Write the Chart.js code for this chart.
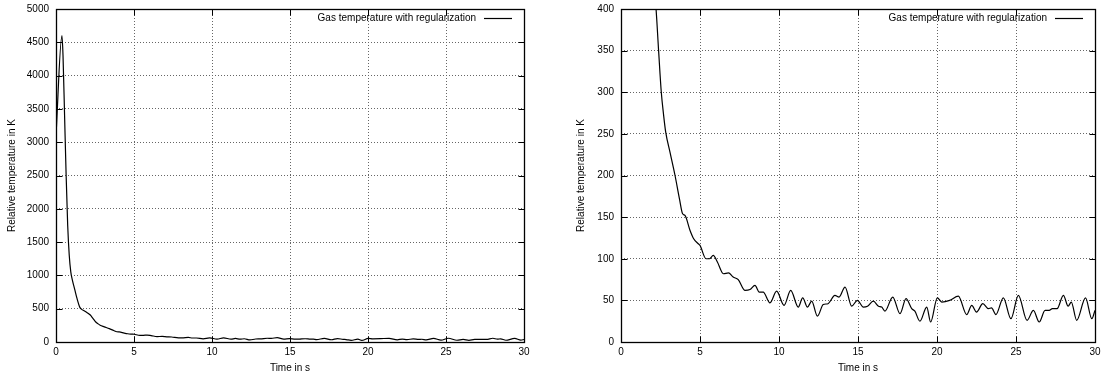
<!DOCTYPE html>
<html><head><meta charset="utf-8">
<script src="https://cdn.jsdelivr.net/npm/chart.js@4/dist/chart.umd.min.js"></script>
<style>
html,body{margin:0;padding:0;background:#fff;}
#wrap{position:relative;width:1101px;height:376px;overflow:hidden;}
canvas{position:absolute;top:0;}
</style></head><body>
<div id="wrap">
<canvas id="c1" style="left:0;width:550px;height:376px"></canvas>
<canvas id="c2" style="left:550px;width:551px;height:376px"></canvas>
</div>
<script>
const timeSeconds = [
  0, 0.38, 0.45, 0.55, 0.65, 0.75, 0.85, 0.95, 1.05, 1.2, 1.35, 1.53, 1.65, 1.8, 2.0,
  2.2, 2.38, 2.55, 2.7, 2.83, 3.1, 3.42, 3.7, 3.9, 4.05, 4.37, 4.6, 4.89, 5.0, 5.38, 5.6,
  5.84, 6.1, 6.48, 6.8, 7.1, 7.42, 7.85, 8.16, 8.48, 8.75, 9.0, 9.43, 9.85, 10.32, 10.74,
  11.22, 11.5, 11.8, 12.07, 12.43, 12.8, 13.1, 13.54, 13.8, 14.18, 14.6, 14.96, 15.34, 15.6, 15.97,
  16.3, 16.5, 16.7, 17.2, 17.66, 18.04, 18.4, 18.6, 18.92, 19.35, 19.6, 20.02, 20.3, 20.8, 21.35,
  21.88, 22.2, 22.5, 22.9, 23.25, 23.45, 23.73, 24.2, 24.68, 25.15, 25.7, 26.1, 26.47, 26.84, 27.1,
  27.3, 27.6, 28.0, 28.3, 28.5, 28.84, 29.4, 29.8, 30
];
const gasTemperature = [
  3100, 4600, 4300, 3400, 2500, 1750, 1300, 1050, 930, 790, 650, 520, 490, 470, 440,
  405, 350, 300, 272, 252, 228, 200, 172, 154, 152, 134, 124, 118, 116, 100, 100,
  104, 96, 82, 83, 78, 75, 62, 63, 68, 60, 60, 47, 61, 44, 62,
  42, 53, 42, 49, 31, 45, 46, 56, 54, 66, 43, 50, 42, 43, 49,
  43, 42, 37, 54, 34, 52, 40, 37, 25, 42, 24, 53, 48, 50, 55,
  33, 44, 36, 46, 40, 41, 33, 53, 28, 56, 26, 38, 24, 38, 38,
  40, 40, 56, 43, 48, 26, 53, 28, 38
];
const xTickValues = [0, 5, 10, 15, 20, 25, 30];
const yTickValuesLeft = [0, 500, 1000, 1500, 2000, 2500, 3000, 3500, 4000, 4500, 5000];
const yTickValuesRight = [0, 50, 100, 150, 200, 250, 300, 350, 400];
const seriesLabel = "Gas temperature with regularization";
const xTitle = "Time in s";
const yTitle = "Relative temperature in K";

Chart.defaults.font.family = '"Liberation Sans", Arial, Helvetica, sans-serif';
Chart.defaults.font.size = 10;
Chart.defaults.color = '#000';

const points = timeSeconds.map((t, i) => ({x: t, y: gasTemperature[i]}));

const framePlugin = {
  id: 'gnuFrame',
  afterDraw(chart) {
    const ctx = chart.ctx;
    const a = chart.chartArea;
    const xs = chart.scales.x, ys = chart.scales.y;
    const L = Math.round(a.left) + 0.5, R = Math.round(a.right) + 0.5;
    const T = Math.round(a.top) + 0.5, B = Math.round(a.bottom) + 0.5;
    ctx.save();
    ctx.strokeStyle = '#000';
    ctx.lineWidth = 1;
    ctx.setLineDash([]);
    ctx.beginPath();
    const tl = 6;
    xs.ticks.forEach(tk => {
      const p = Math.round(xs.getPixelForValue(tk.value)) + 0.5;
      ctx.moveTo(p, B); ctx.lineTo(p, B - tl);
      ctx.moveTo(p, T); ctx.lineTo(p, T + tl);
    });
    ys.ticks.forEach(tk => {
      const p = Math.round(ys.getPixelForValue(tk.value)) + 0.5;
      ctx.moveTo(L, p); ctx.lineTo(L + tl, p);
      ctx.moveTo(R, p); ctx.lineTo(R - tl, p);
    });
    ctx.stroke();
    ctx.lineWidth = 1.3;
    ctx.strokeRect(L, T, R - L, B - T);
    const ky = a.top + 9;
    ctx.font = '10px "Liberation Sans", Arial, sans-serif';
    ctx.fillStyle = '#000';
    ctx.textAlign = 'right';
    ctx.textBaseline = 'middle';
    ctx.fillText(chart.data.datasets[0].label, a.right - 48, ky);
    ctx.lineWidth = 1.2;
    ctx.beginPath();
    ctx.moveTo(a.right - 40, Math.round(ky) + 0.5);
    ctx.lineTo(a.right - 12, Math.round(ky) + 0.5);
    ctx.stroke();
    ctx.restore();
  }
};

function makeChart(id, yMax, yTicks, yAxisWidth, yTitlePad, rightPad) {
  const canvas = document.getElementById(id);
  return new Chart(canvas, {
    type: 'line',
    data: {
      datasets: [{
        label: seriesLabel,
        data: points,
        borderColor: '#000',
        borderWidth: 1.2,
        pointRadius: 0,
        fill: false,
        cubicInterpolationMode: 'monotone'
      }]
    },
    options: {
      responsive: false,
      animation: false,
      devicePixelRatio: 1,
      layout: {padding: {top: 9, right: rightPad, left: 0, bottom: 0}},
      plugins: {legend: {display: false}, tooltip: {enabled: false}},
      scales: {
        x: {
          type: 'linear', min: 0, max: 30,
          afterBuildTicks: s => { s.ticks = xTickValues.map(v => ({value: v})); },
          afterFit: s => { s.height = 34; s.paddingLeft = 0; s.paddingRight = 0; },
          ticks: {padding: 4, maxRotation: 0, autoSkip: false, callback: v => String(v)},
          grid: {color: '#666', lineWidth: 1, drawTicks: false},
          border: {display: false, dash: [1, 2]},
          title: {display: true, text: xTitle, padding: {top: 0, bottom: 2}}
        },
        y: {
          type: 'linear', min: 0, max: yMax,
          afterBuildTicks: s => { s.ticks = yTicks.map(v => ({value: v})); },
          afterFit: s => { s.width = yAxisWidth; s.paddingTop = 0; s.paddingBottom = 0; },
          ticks: {padding: 7, autoSkip: false, callback: v => String(v)},
          grid: {color: '#666', lineWidth: 1, drawTicks: false},
          border: {display: false, dash: [1, 2]},
          title: {display: true, text: yTitle, padding: {top: yTitlePad, bottom: 0}}
        }
      }
    },
    plugins: [framePlugin]
  });
}

document.getElementById('c1').width = 550; document.getElementById('c1').height = 376;
document.getElementById('c2').width = 551; document.getElementById('c2').height = 376;
makeChart('c1', 5000, yTickValuesLeft, 56, 6, 26);
makeChart('c2', 400, yTickValuesRight, 71, 25, 6);
</script>
</body></html>
